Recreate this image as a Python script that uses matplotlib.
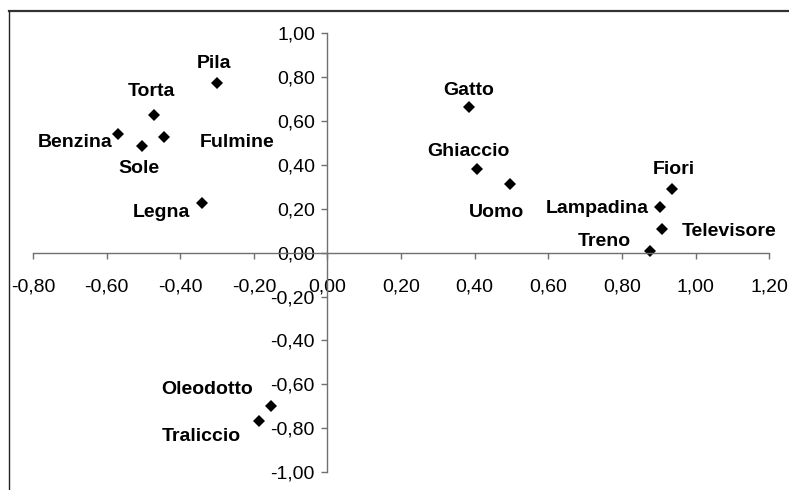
import matplotlib
matplotlib.use("Agg")
import matplotlib.pyplot as plt
from matplotlib.ticker import FuncFormatter, MultipleLocator
from matplotlib.lines import Line2D

plt.rcParams['font.family'] = ['Liberation Sans', 'DejaVu Sans']

names = ["Pila", "Torta", "Benzina", "Sole", "Fulmine", "Legna",
         "Gatto", "Ghiaccio", "Uomo", "Fiori", "Lampadina", "Televisore",
         "Treno", "Oleodotto", "Traliccio"]
x_vals = [-0.30, -0.47, -0.57, -0.505, -0.445, -0.34,
          0.385, 0.405, 0.497, 0.936, 0.902, 0.908,
          0.875, -0.154, -0.187]
y_vals = [0.776, 0.627, 0.540, 0.488, 0.529, 0.225,
          0.665, 0.380, 0.315, 0.292, 0.207, 0.107,
          0.009, -0.698, -0.767]

# label placement (offset pixels, alignment)
label_pos = {
    "Pila": (-3, 19, 'center'),
    "Torta": (-3, 24, 'center'),
    "Benzina": (-5, -8, 'right'),
    "Sole": (-3, -23, 'center'),
    "Fulmine": (36, -6, 'left'),
    "Legna": (-12, -9, 'right'),
    "Gatto": (-1, 16, 'center'),
    "Ghiaccio": (-8, 18, 'center'),
    "Uomo": (-14, -29, 'center'),
    "Fiori": (2, 19, 'center'),
    "Lampadina": (-11, -1, 'right'),
    "Televisore": (20, -2, 'left'),
    "Treno": (-19, 9, 'right'),
    "Oleodotto": (-18, 16, 'right'),
    "Traliccio": (-18, -16, 'right'),
}

fig = plt.figure(figsize=(7.89, 4.90), dpi=100)
ax = fig.add_axes([33/789, (490-472)/490, (769.2-33)/789, (472-33.5)/490])
ax.set_xlim(-0.8, 1.2)
ax.set_ylim(-1.0, 1.0)

ax.plot(x_vals, y_vals, linestyle='none', marker='D', markersize=6.4,
        color='black', markeredgewidth=0, clip_on=False)

for n, xv, yv in zip(names, x_vals, y_vals):
    dx, dy, ha = label_pos[n]
    ax.annotate(n, (xv, yv), xytext=(dx, dy), textcoords='offset pixels',
                ha=ha, va='center', fontsize=14, fontweight='bold',
                color='black')

for s in ['top', 'right']:
    ax.spines[s].set_visible(False)
ax.spines['left'].set_position(('data', 0))
ax.spines['bottom'].set_position(('data', 0))
for s in ['left', 'bottom']:
    ax.spines[s].set_color('#707070')
    ax.spines[s].set_linewidth(1.0)

ax.xaxis.set_major_locator(MultipleLocator(0.2))
ax.yaxis.set_major_locator(MultipleLocator(0.2))

def fmt(v, pos):
    if abs(v) < 1e-9:
        v = 0.0
    return f"{v:.2f}".replace('.', ',')

ax.xaxis.set_major_formatter(FuncFormatter(fmt))
ax.yaxis.set_major_formatter(FuncFormatter(fmt))
ax.tick_params(axis='x', direction='out', length=4.5, width=1.0,
               color='#707070', labelsize=14, pad=14)
ax.tick_params(axis='y', direction='out', length=4, width=1.0,
               color='#707070', labelsize=14, pad=5)
ax.patch.set_visible(False)

# outer chart frame (partly cropped)
fig.add_artist(Line2D([8.5/789, 1.0], [1 - 11.5/490, 1 - 11.5/490],
                      transform=fig.transFigure, color='#333333', lw=1.6))
fig.add_artist(Line2D([8.5/789, 8.5/789], [0.0, 1 - 11.5/490],
                      transform=fig.transFigure, color='#222222', lw=1.0))

fig.savefig("out.png", dpi=100)
